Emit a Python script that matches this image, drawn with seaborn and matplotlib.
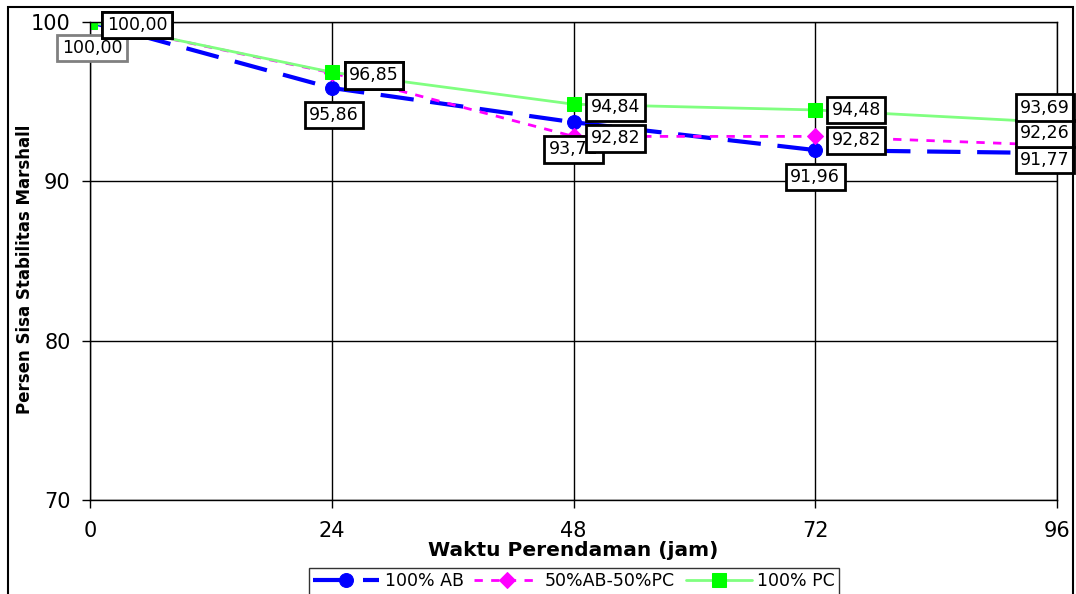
import numpy as np
import pandas as pd
import matplotlib
matplotlib.use("Agg")
import matplotlib.pyplot as plt
from matplotlib.patches import Rectangle
import seaborn as sns

# data
hours = [0, 24, 48, 72, 96]
ab_100 = [100.00, 95.86, 93.71, 91.96, 91.77]
ab_pc_50 = [100.00, 96.81, 92.82, 92.82, 92.26]
pc_100 = [100.00, 96.85, 94.84, 94.48, 93.69]
series_names = ['100% AB', '50%AB-50%PC', '100% PC']

sns.set_style('white')
plt.rcParams['font.family'] = ['DejaVu Sans']
plt.rcParams['text.color'] = 'black'
plt.rcParams['axes.labelcolor'] = 'black'
plt.rcParams['xtick.color'] = 'black'
plt.rcParams['ytick.color'] = 'black'

fig = plt.figure(figsize=(10.76, 5.94), dpi=100)
ax = fig.add_axes([90 / 1076, 1 - 500 / 594, 967 / 1076, 478 / 594])

styles = {
    '100% AB': dict(color='#0000ff', linestyle=(0, (8, 4)), lw=3, marker='o', markersize=10),
    '50%AB-50%PC': dict(color='#ff00ff', linestyle=(0, (3, 3)), lw=2, marker='D', markersize=8),
    '100% PC': dict(color='#80ff80', linestyle='-', lw=2, marker='s', markersize=10,
                    markerfacecolor='#00ff00', markeredgecolor='#00ff00'),
}

df = pd.DataFrame({'jam': hours * 3,
                   'nilai': ab_100 + ab_pc_50 + pc_100,
                   'seri': np.repeat(series_names, len(hours))})

for name in series_names:
    sub = df[df['seri'] == name]
    st = dict(styles[name])
    st.setdefault('markeredgecolor', st['color'])
    sns.lineplot(data=sub, x='jam', y='nilai', ax=ax, label=name, legend=False, **st)

# data labels (pixel offsets mimic the Excel placement)
label_offsets = {
    '100% AB': [(2, -26), (2, -27), (0, -27), (0, -27), (-12, -7)],
    '50%AB-50%PC': [(47, -3), (42, -3), (42, -2), (41, -4), (-12, 12)],
    '100% PC': [(47, -3), (42, -3), (42, -3), (41, 0), (-12, 15)],
}
for name, vals in zip(series_names, [ab_100, ab_pc_50, pc_100]):
    for i, (h, v) in enumerate(zip(hours, vals)):
        edge = '#808080' if (name == '100% AB' and i == 0) else 'black'
        ax.annotate(f'{v:.2f}'.replace('.', ','), (h, v),
                    xytext=label_offsets[name][i], textcoords='offset pixels',
                    ha='center', va='center', fontsize=12.5, color='black',
                    bbox=dict(boxstyle='square,pad=0.25', fc='white', ec=edge, lw=2),
                    annotation_clip=False, zorder=5)

ax.set_xlim(0, 96)
ax.set_ylim(70, 100)
ax.set_xticks(hours)
ax.set_yticks([70, 80, 90, 100])
ax.grid(True, color='black', lw=1)
for sp in ax.spines.values():
    sp.set_color('black')
    sp.set_linewidth(1)
ax.tick_params(axis='both', direction='out', length=6, width=1, color='black',
               labelsize=15, left=True, bottom=True)
ax.tick_params(axis='x', pad=9)
ax.tick_params(axis='y', pad=8)

ax.set_xlabel('Waktu Perendaman (jam)', fontsize=14.5, fontweight='bold', labelpad=0)
ax.set_ylabel('')
fig.text(25 / 1076, 1 - 269 / 594, 'Persen Sisa Stabilitas Marshall', rotation=90,
         ha='center', va='center', fontsize=12, fontweight='bold',
         family=['Liberation Sans Narrow', 'DejaVu Sans'])

handles, labels = ax.get_legend_handles_labels()
leg = fig.legend(handles, labels, loc='upper center', bbox_to_anchor=(574 / 1076, 1 - 568 / 594),
                 ncol=3, fontsize=12.5, frameon=True, fancybox=False, handlelength=3.8,
                 columnspacing=0.6, handletextpad=0.3, borderpad=0.25, borderaxespad=0)
leg.get_frame().set_edgecolor('black')
leg.get_frame().set_linewidth(1)

fig.patches.append(Rectangle((8 / 1076, -0.05), 1065 / 1076, 1.05 - 7 / 594,
                             transform=fig.transFigure, fill=False, ec='black', lw=1.5))

fig.savefig('out.png', dpi=100)
